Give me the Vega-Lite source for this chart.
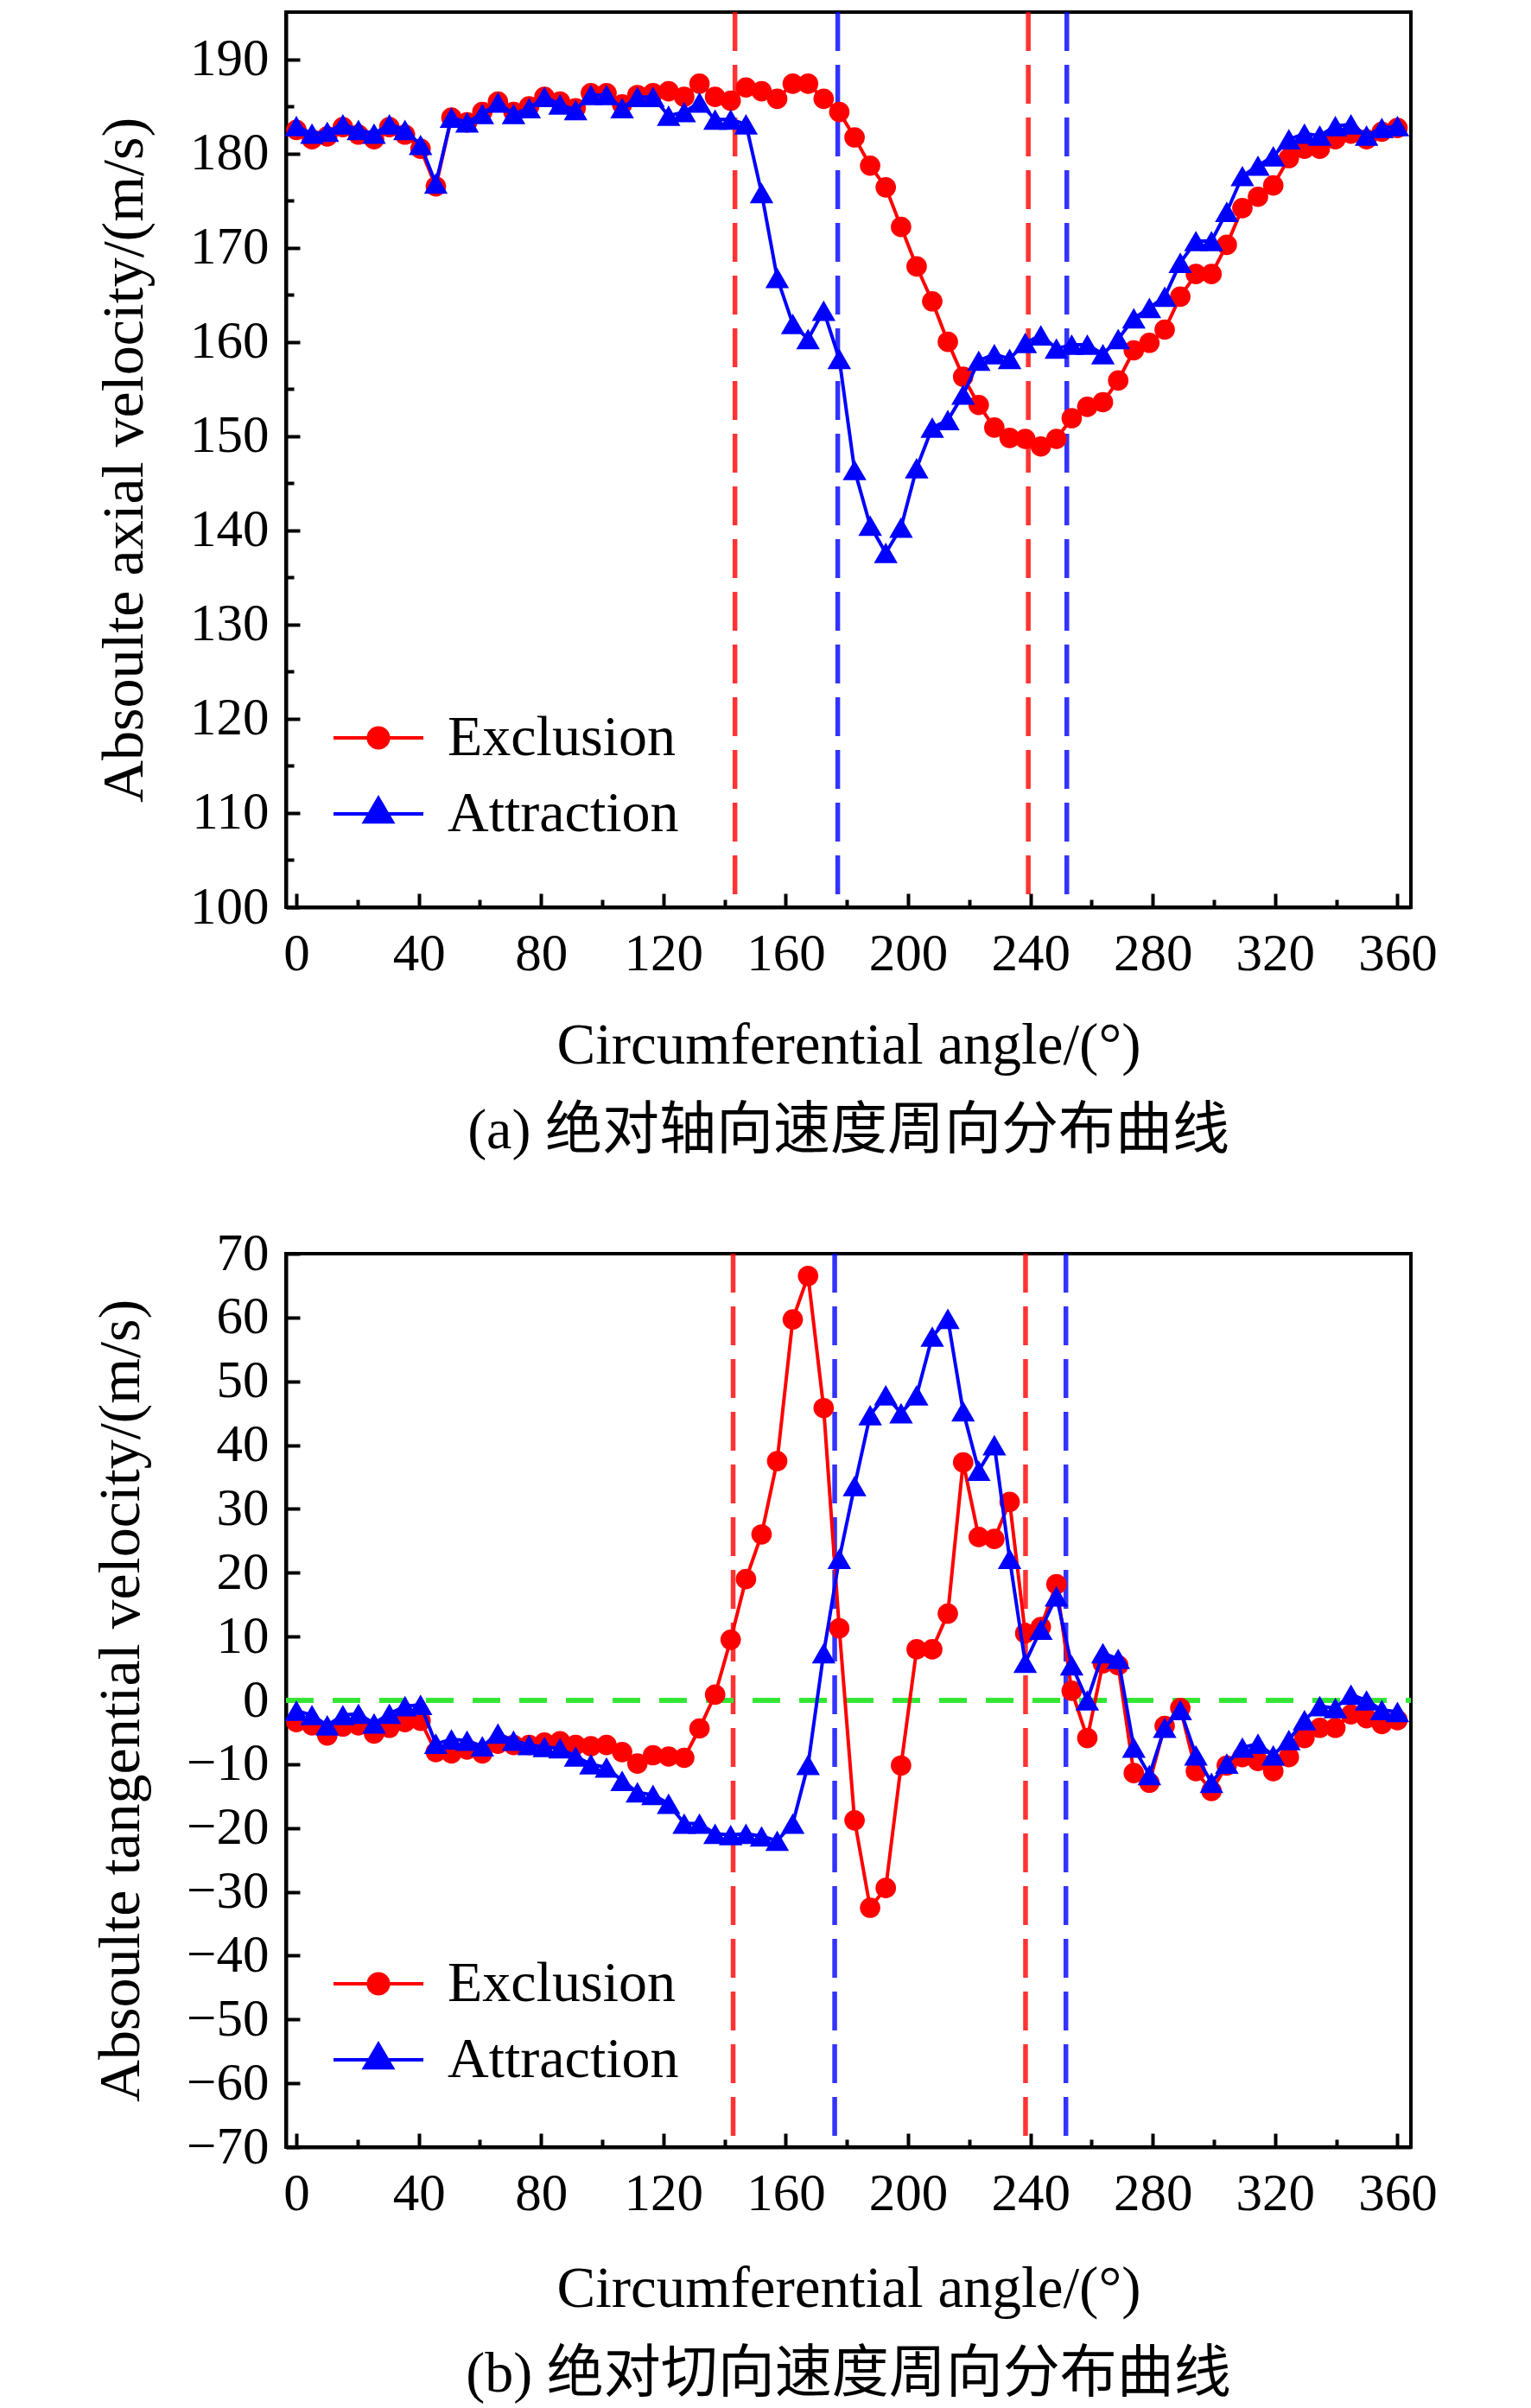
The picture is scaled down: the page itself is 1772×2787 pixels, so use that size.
{
  "$schema": "https://vega.github.io/schema/vega-lite/v6.json",
  "padding": {"left": 104, "top": 9, "right": 10, "bottom": 0},
  "background": "white",
  "spacing": 74,
  "datasets": {
    "markA": [
      {"angle": 143.4, "series": "Exclusion"},
      {"angle": 239.3, "series": "Exclusion"},
      {"angle": 177.0, "series": "Attraction"},
      {"angle": 251.9, "series": "Attraction"}
    ],
    "markB": [
      {"angle": 142.8, "series": "Exclusion"},
      {"angle": 238.4, "series": "Exclusion"},
      {"angle": 176.0, "series": "Attraction"},
      {"angle": 251.6, "series": "Attraction"}
    ],
    "axial": [
      {"angle": 0, "series": "Exclusion", "value": 182.5},
      {"angle": 5.1, "series": "Exclusion", "value": 181.5},
      {"angle": 10.1, "series": "Exclusion", "value": 181.8},
      {"angle": 15.2, "series": "Exclusion", "value": 182.8},
      {"angle": 20.3, "series": "Exclusion", "value": 182.0},
      {"angle": 25.4, "series": "Exclusion", "value": 181.5},
      {"angle": 30.4, "series": "Exclusion", "value": 182.8},
      {"angle": 35.5, "series": "Exclusion", "value": 182.0},
      {"angle": 40.6, "series": "Exclusion", "value": 180.5},
      {"angle": 45.6, "series": "Exclusion", "value": 176.5},
      {"angle": 50.7, "series": "Exclusion", "value": 183.8},
      {"angle": 55.8, "series": "Exclusion", "value": 183.3},
      {"angle": 60.8, "series": "Exclusion", "value": 184.4},
      {"angle": 65.9, "series": "Exclusion", "value": 185.5},
      {"angle": 71.0, "series": "Exclusion", "value": 184.4},
      {"angle": 76.1, "series": "Exclusion", "value": 185.0},
      {"angle": 81.1, "series": "Exclusion", "value": 186.0},
      {"angle": 86.2, "series": "Exclusion", "value": 185.5},
      {"angle": 91.3, "series": "Exclusion", "value": 184.8},
      {"angle": 96.3, "series": "Exclusion", "value": 186.4},
      {"angle": 101.4, "series": "Exclusion", "value": 186.4},
      {"angle": 106.5, "series": "Exclusion", "value": 185.2},
      {"angle": 111.5, "series": "Exclusion", "value": 186.2},
      {"angle": 116.6, "series": "Exclusion", "value": 186.4},
      {"angle": 121.7, "series": "Exclusion", "value": 186.6},
      {"angle": 126.8, "series": "Exclusion", "value": 186.0},
      {"angle": 131.8, "series": "Exclusion", "value": 187.4},
      {"angle": 136.9, "series": "Exclusion", "value": 186.0},
      {"angle": 142.0, "series": "Exclusion", "value": 185.6},
      {"angle": 147.0, "series": "Exclusion", "value": 187.0},
      {"angle": 152.1, "series": "Exclusion", "value": 186.6},
      {"angle": 157.2, "series": "Exclusion", "value": 185.8},
      {"angle": 162.3, "series": "Exclusion", "value": 187.4},
      {"angle": 167.3, "series": "Exclusion", "value": 187.4},
      {"angle": 172.4, "series": "Exclusion", "value": 185.8},
      {"angle": 177.5, "series": "Exclusion", "value": 184.4},
      {"angle": 182.5, "series": "Exclusion", "value": 181.7},
      {"angle": 187.6, "series": "Exclusion", "value": 178.7},
      {"angle": 192.7, "series": "Exclusion", "value": 176.4},
      {"angle": 197.7, "series": "Exclusion", "value": 172.2},
      {"angle": 202.8, "series": "Exclusion", "value": 168.0},
      {"angle": 207.9, "series": "Exclusion", "value": 164.3},
      {"angle": 213.0, "series": "Exclusion", "value": 160.0},
      {"angle": 218.0, "series": "Exclusion", "value": 156.3},
      {"angle": 223.1, "series": "Exclusion", "value": 153.3},
      {"angle": 228.2, "series": "Exclusion", "value": 150.9},
      {"angle": 233.2, "series": "Exclusion", "value": 149.8},
      {"angle": 238.3, "series": "Exclusion", "value": 149.7},
      {"angle": 243.4, "series": "Exclusion", "value": 148.9},
      {"angle": 248.5, "series": "Exclusion", "value": 149.7},
      {"angle": 253.5, "series": "Exclusion", "value": 151.9},
      {"angle": 258.6, "series": "Exclusion", "value": 153.1},
      {"angle": 263.7, "series": "Exclusion", "value": 153.6},
      {"angle": 268.7, "series": "Exclusion", "value": 155.9},
      {"angle": 273.8, "series": "Exclusion", "value": 159.1},
      {"angle": 278.9, "series": "Exclusion", "value": 159.9},
      {"angle": 283.9, "series": "Exclusion", "value": 161.3},
      {"angle": 289.0, "series": "Exclusion", "value": 164.8},
      {"angle": 294.1, "series": "Exclusion", "value": 167.2},
      {"angle": 299.2, "series": "Exclusion", "value": 167.2},
      {"angle": 304.2, "series": "Exclusion", "value": 170.3},
      {"angle": 309.3, "series": "Exclusion", "value": 174.2},
      {"angle": 314.4, "series": "Exclusion", "value": 175.4},
      {"angle": 319.4, "series": "Exclusion", "value": 176.6},
      {"angle": 324.5, "series": "Exclusion", "value": 179.5},
      {"angle": 329.6, "series": "Exclusion", "value": 180.5},
      {"angle": 334.6, "series": "Exclusion", "value": 180.5},
      {"angle": 339.7, "series": "Exclusion", "value": 181.5},
      {"angle": 344.8, "series": "Exclusion", "value": 182.1},
      {"angle": 349.9, "series": "Exclusion", "value": 181.5},
      {"angle": 354.9, "series": "Exclusion", "value": 182.3},
      {"angle": 360.0, "series": "Exclusion", "value": 182.7},
      {"angle": 0, "series": "Attraction", "value": 182.9},
      {"angle": 5.1, "series": "Attraction", "value": 182.1},
      {"angle": 10.1, "series": "Attraction", "value": 182.3},
      {"angle": 15.2, "series": "Attraction", "value": 183.1},
      {"angle": 20.3, "series": "Attraction", "value": 182.5},
      {"angle": 25.4, "series": "Attraction", "value": 182.1},
      {"angle": 30.4, "series": "Attraction", "value": 183.1},
      {"angle": 35.5, "series": "Attraction", "value": 182.5},
      {"angle": 40.6, "series": "Attraction", "value": 180.9},
      {"angle": 45.6, "series": "Attraction", "value": 176.8},
      {"angle": 50.7, "series": "Attraction", "value": 183.8},
      {"angle": 55.8, "series": "Attraction", "value": 183.3},
      {"angle": 60.8, "series": "Attraction", "value": 184.2},
      {"angle": 65.9, "series": "Attraction", "value": 185.4},
      {"angle": 71.0, "series": "Attraction", "value": 184.2},
      {"angle": 76.1, "series": "Attraction", "value": 184.8},
      {"angle": 81.1, "series": "Attraction", "value": 186.0},
      {"angle": 86.2, "series": "Attraction", "value": 185.2},
      {"angle": 91.3, "series": "Attraction", "value": 184.6},
      {"angle": 96.3, "series": "Attraction", "value": 186.2},
      {"angle": 101.4, "series": "Attraction", "value": 186.2},
      {"angle": 106.5, "series": "Attraction", "value": 184.8},
      {"angle": 111.5, "series": "Attraction", "value": 186.0},
      {"angle": 116.6, "series": "Attraction", "value": 186.0},
      {"angle": 121.7, "series": "Attraction", "value": 184.0},
      {"angle": 126.8, "series": "Attraction", "value": 184.4},
      {"angle": 131.8, "series": "Attraction", "value": 185.4},
      {"angle": 136.9, "series": "Attraction", "value": 183.6},
      {"angle": 142.0, "series": "Attraction", "value": 183.6},
      {"angle": 147.0, "series": "Attraction", "value": 183.1},
      {"angle": 152.1, "series": "Attraction", "value": 175.8},
      {"angle": 157.2, "series": "Attraction", "value": 166.8},
      {"angle": 162.3, "series": "Attraction", "value": 161.9},
      {"angle": 167.3, "series": "Attraction", "value": 160.3},
      {"angle": 172.4, "series": "Attraction", "value": 163.3},
      {"angle": 177.5, "series": "Attraction", "value": 158.2},
      {"angle": 182.5, "series": "Attraction", "value": 146.4},
      {"angle": 187.6, "series": "Attraction", "value": 140.5},
      {"angle": 192.7, "series": "Attraction", "value": 137.6},
      {"angle": 197.7, "series": "Attraction", "value": 140.3},
      {"angle": 202.8, "series": "Attraction", "value": 146.6},
      {"angle": 207.9, "series": "Attraction", "value": 150.9},
      {"angle": 213.0, "series": "Attraction", "value": 151.7},
      {"angle": 218.0, "series": "Attraction", "value": 154.4},
      {"angle": 223.1, "series": "Attraction", "value": 158.0},
      {"angle": 228.2, "series": "Attraction", "value": 158.7},
      {"angle": 233.2, "series": "Attraction", "value": 158.2},
      {"angle": 238.3, "series": "Attraction", "value": 159.9},
      {"angle": 243.4, "series": "Attraction", "value": 160.7},
      {"angle": 248.5, "series": "Attraction", "value": 159.3},
      {"angle": 253.5, "series": "Attraction", "value": 159.7},
      {"angle": 258.6, "series": "Attraction", "value": 159.7},
      {"angle": 263.7, "series": "Attraction", "value": 158.7},
      {"angle": 268.7, "series": "Attraction", "value": 160.3},
      {"angle": 273.8, "series": "Attraction", "value": 162.5},
      {"angle": 278.9, "series": "Attraction", "value": 163.6},
      {"angle": 283.9, "series": "Attraction", "value": 164.8},
      {"angle": 289.0, "series": "Attraction", "value": 168.4},
      {"angle": 294.1, "series": "Attraction", "value": 170.7},
      {"angle": 299.2, "series": "Attraction", "value": 170.7},
      {"angle": 304.2, "series": "Attraction", "value": 173.8},
      {"angle": 309.3, "series": "Attraction", "value": 177.6},
      {"angle": 314.4, "series": "Attraction", "value": 178.7},
      {"angle": 319.4, "series": "Attraction", "value": 179.7},
      {"angle": 324.5, "series": "Attraction", "value": 181.5},
      {"angle": 329.6, "series": "Attraction", "value": 182.1},
      {"angle": 334.6, "series": "Attraction", "value": 181.9},
      {"angle": 339.7, "series": "Attraction", "value": 182.9},
      {"angle": 344.8, "series": "Attraction", "value": 183.1},
      {"angle": 349.9, "series": "Attraction", "value": 181.9},
      {"angle": 354.9, "series": "Attraction", "value": 182.7},
      {"angle": 360.0, "series": "Attraction", "value": 182.9}
    ],
    "tangential": [
      {"angle": 0, "series": "Exclusion", "value": -3.4},
      {"angle": 5.1, "series": "Exclusion", "value": -3.9},
      {"angle": 10.1, "series": "Exclusion", "value": -5.5},
      {"angle": 15.2, "series": "Exclusion", "value": -4.1},
      {"angle": 20.3, "series": "Exclusion", "value": -3.9},
      {"angle": 25.4, "series": "Exclusion", "value": -5.2},
      {"angle": 30.4, "series": "Exclusion", "value": -4.3},
      {"angle": 35.5, "series": "Exclusion", "value": -3.4},
      {"angle": 40.6, "series": "Exclusion", "value": -3.2},
      {"angle": 45.6, "series": "Exclusion", "value": -8.1},
      {"angle": 50.7, "series": "Exclusion", "value": -8.3},
      {"angle": 55.8, "series": "Exclusion", "value": -7.7},
      {"angle": 60.8, "series": "Exclusion", "value": -8.3},
      {"angle": 65.9, "series": "Exclusion", "value": -6.8},
      {"angle": 71.0, "series": "Exclusion", "value": -7.0},
      {"angle": 76.1, "series": "Exclusion", "value": -7.0},
      {"angle": 81.1, "series": "Exclusion", "value": -6.6},
      {"angle": 86.2, "series": "Exclusion", "value": -6.4},
      {"angle": 91.3, "series": "Exclusion", "value": -7.0},
      {"angle": 96.3, "series": "Exclusion", "value": -7.2},
      {"angle": 101.4, "series": "Exclusion", "value": -7.0},
      {"angle": 106.5, "series": "Exclusion", "value": -8.1},
      {"angle": 111.5, "series": "Exclusion", "value": -9.9},
      {"angle": 116.6, "series": "Exclusion", "value": -8.6},
      {"angle": 121.7, "series": "Exclusion", "value": -8.8},
      {"angle": 126.8, "series": "Exclusion", "value": -9.0},
      {"angle": 131.8, "series": "Exclusion", "value": -4.4},
      {"angle": 136.9, "series": "Exclusion", "value": 0.9},
      {"angle": 142.0, "series": "Exclusion", "value": 9.5},
      {"angle": 147.0, "series": "Exclusion", "value": 19.0},
      {"angle": 152.1, "series": "Exclusion", "value": 26.0},
      {"angle": 157.2, "series": "Exclusion", "value": 37.5},
      {"angle": 162.3, "series": "Exclusion", "value": 59.7},
      {"angle": 167.3, "series": "Exclusion", "value": 66.5},
      {"angle": 172.4, "series": "Exclusion", "value": 45.8},
      {"angle": 177.5, "series": "Exclusion", "value": 11.3},
      {"angle": 182.5, "series": "Exclusion", "value": -18.8},
      {"angle": 187.6, "series": "Exclusion", "value": -32.5},
      {"angle": 192.7, "series": "Exclusion", "value": -29.4},
      {"angle": 197.7, "series": "Exclusion", "value": -10.2},
      {"angle": 202.8, "series": "Exclusion", "value": 8.0},
      {"angle": 207.9, "series": "Exclusion", "value": 8.0},
      {"angle": 213.0, "series": "Exclusion", "value": 13.6},
      {"angle": 218.0, "series": "Exclusion", "value": 37.3},
      {"angle": 223.1, "series": "Exclusion", "value": 25.6},
      {"angle": 228.2, "series": "Exclusion", "value": 25.3},
      {"angle": 233.2, "series": "Exclusion", "value": 31.1},
      {"angle": 238.3, "series": "Exclusion", "value": 10.5},
      {"angle": 243.4, "series": "Exclusion", "value": 11.5},
      {"angle": 248.5, "series": "Exclusion", "value": 18.2},
      {"angle": 253.5, "series": "Exclusion", "value": 1.5},
      {"angle": 258.6, "series": "Exclusion", "value": -5.9},
      {"angle": 263.7, "series": "Exclusion", "value": 5.8},
      {"angle": 268.7, "series": "Exclusion", "value": 5.5},
      {"angle": 273.8, "series": "Exclusion", "value": -11.4},
      {"angle": 278.9, "series": "Exclusion", "value": -12.9},
      {"angle": 283.9, "series": "Exclusion", "value": -4.0},
      {"angle": 289.0, "series": "Exclusion", "value": -1.2},
      {"angle": 294.1, "series": "Exclusion", "value": -11.1},
      {"angle": 299.2, "series": "Exclusion", "value": -14.2},
      {"angle": 304.2, "series": "Exclusion", "value": -10.2},
      {"angle": 309.3, "series": "Exclusion", "value": -8.9},
      {"angle": 314.4, "series": "Exclusion", "value": -9.5},
      {"angle": 319.4, "series": "Exclusion", "value": -11.1},
      {"angle": 324.5, "series": "Exclusion", "value": -8.9},
      {"angle": 329.6, "series": "Exclusion", "value": -5.9},
      {"angle": 334.6, "series": "Exclusion", "value": -4.3},
      {"angle": 339.7, "series": "Exclusion", "value": -4.3},
      {"angle": 344.8, "series": "Exclusion", "value": -2.2},
      {"angle": 349.9, "series": "Exclusion", "value": -2.8},
      {"angle": 354.9, "series": "Exclusion", "value": -3.7},
      {"angle": 360.0, "series": "Exclusion", "value": -3.1},
      {"angle": 0, "series": "Attraction", "value": -1.6},
      {"angle": 5.1, "series": "Attraction", "value": -2.3},
      {"angle": 10.1, "series": "Attraction", "value": -3.9},
      {"angle": 15.2, "series": "Attraction", "value": -2.3},
      {"angle": 20.3, "series": "Attraction", "value": -2.1},
      {"angle": 25.4, "series": "Attraction", "value": -3.6},
      {"angle": 30.4, "series": "Attraction", "value": -2.1},
      {"angle": 35.5, "series": "Attraction", "value": -0.9},
      {"angle": 40.6, "series": "Attraction", "value": -0.7},
      {"angle": 45.6, "series": "Attraction", "value": -6.8},
      {"angle": 50.7, "series": "Attraction", "value": -6.1},
      {"angle": 55.8, "series": "Attraction", "value": -6.3},
      {"angle": 60.8, "series": "Attraction", "value": -7.2},
      {"angle": 65.9, "series": "Attraction", "value": -5.2},
      {"angle": 71.0, "series": "Attraction", "value": -6.3},
      {"angle": 76.1, "series": "Attraction", "value": -7.0},
      {"angle": 81.1, "series": "Attraction", "value": -7.3},
      {"angle": 86.2, "series": "Attraction", "value": -7.5},
      {"angle": 91.3, "series": "Attraction", "value": -8.8},
      {"angle": 96.3, "series": "Attraction", "value": -10.0},
      {"angle": 101.4, "series": "Attraction", "value": -10.5},
      {"angle": 106.5, "series": "Attraction", "value": -12.6},
      {"angle": 111.5, "series": "Attraction", "value": -14.4},
      {"angle": 116.6, "series": "Attraction", "value": -14.8},
      {"angle": 121.7, "series": "Attraction", "value": -16.2},
      {"angle": 126.8, "series": "Attraction", "value": -19.3},
      {"angle": 131.8, "series": "Attraction", "value": -19.3},
      {"angle": 136.9, "series": "Attraction", "value": -20.9},
      {"angle": 142.0, "series": "Attraction", "value": -21.1},
      {"angle": 147.0, "series": "Attraction", "value": -20.9},
      {"angle": 152.1, "series": "Attraction", "value": -21.3},
      {"angle": 157.2, "series": "Attraction", "value": -22.0},
      {"angle": 162.3, "series": "Attraction", "value": -19.3},
      {"angle": 167.3, "series": "Attraction", "value": -10.1},
      {"angle": 172.4, "series": "Attraction", "value": 7.4},
      {"angle": 177.5, "series": "Attraction", "value": 22.2},
      {"angle": 182.5, "series": "Attraction", "value": 33.6},
      {"angle": 187.6, "series": "Attraction", "value": 44.7},
      {"angle": 192.7, "series": "Attraction", "value": 47.8},
      {"angle": 197.7, "series": "Attraction", "value": 45.0},
      {"angle": 202.8, "series": "Attraction", "value": 47.8},
      {"angle": 207.9, "series": "Attraction", "value": 57.0},
      {"angle": 213.0, "series": "Attraction", "value": 59.8},
      {"angle": 218.0, "series": "Attraction", "value": 45.3},
      {"angle": 223.1, "series": "Attraction", "value": 36.0},
      {"angle": 228.2, "series": "Attraction", "value": 40.0},
      {"angle": 233.2, "series": "Attraction", "value": 22.2},
      {"angle": 238.3, "series": "Attraction", "value": 5.9},
      {"angle": 243.4, "series": "Attraction", "value": 11.1},
      {"angle": 248.5, "series": "Attraction", "value": 16.3},
      {"angle": 253.5, "series": "Attraction", "value": 5.5},
      {"angle": 258.6, "series": "Attraction", "value": 0.0},
      {"angle": 263.7, "series": "Attraction", "value": 7.4},
      {"angle": 268.7, "series": "Attraction", "value": 6.5},
      {"angle": 273.8, "series": "Attraction", "value": -7.4},
      {"angle": 278.9, "series": "Attraction", "value": -11.7},
      {"angle": 283.9, "series": "Attraction", "value": -4.3},
      {"angle": 289.0, "series": "Attraction", "value": -1.5},
      {"angle": 294.1, "series": "Attraction", "value": -8.6},
      {"angle": 299.2, "series": "Attraction", "value": -12.9},
      {"angle": 304.2, "series": "Attraction", "value": -9.9},
      {"angle": 309.3, "series": "Attraction", "value": -7.4},
      {"angle": 314.4, "series": "Attraction", "value": -6.8},
      {"angle": 319.4, "series": "Attraction", "value": -8.6},
      {"angle": 324.5, "series": "Attraction", "value": -6.2},
      {"angle": 329.6, "series": "Attraction", "value": -3.1},
      {"angle": 334.6, "series": "Attraction", "value": -0.9},
      {"angle": 339.7, "series": "Attraction", "value": -1.2},
      {"angle": 344.8, "series": "Attraction", "value": 0.9},
      {"angle": 349.9, "series": "Attraction", "value": 0.0},
      {"angle": 354.9, "series": "Attraction", "value": -1.5},
      {"angle": 360.0, "series": "Attraction", "value": -1.8}
    ]
  },
  "vconcat": [
    {
      "width": 1302,
      "height": 1036,
      "title": {"text": "(a) 绝对轴向速度周向分布曲线", "orient": "bottom", "frame": "group", "offset": 34},
      "encoding": {
        "x": {
          "field": "angle",
          "type": "quantitative",
          "scale": {"domain": [-3.4, 364.4], "nice": false, "zero": false},
          "axis": {
            "title": "Circumferential angle/(°)",
            "titleFontSize": 67,
            "values": [0, 20, 40, 60, 80, 100, 120, 140, 160, 180, 200, 220, 240, 260, 280, 300, 320, 340, 360],
            "labelExpr": "datum.value % 40 === 0 ? datum.label : ''",
            "tickSize": {"condition": {"test": "datum.value % 40 === 0", "value": -16}, "value": -9},
            "labelPadding": 40,
            "titlePadding": 36
          }
        }
      },
      "layer": [
        {
          "data": {"name": "markA"},
          "mark": {"type": "rule", "strokeDash": [45, 16], "strokeWidth": 5.5, "opacity": 0.8},
          "encoding": {
            "color": {"field": "series", "type": "nominal", "scale": {"domain": ["Exclusion", "Attraction"], "range": ["#ff0000", "#0000ff"]}}
          }
        },
        {
          "data": {"name": "axial"},
          "transform": [{"filter": "datum.series === 'Exclusion'"}],
          "mark": {"type": "line", "strokeWidth": 4},
          "encoding": {
            "y": {
              "field": "value",
              "type": "quantitative",
              "scale": {"domain": [100, 195], "nice": false, "zero": false},
              "axis": {
                "title": "Absoulte axial velocity/(m/s)",
                "titleFontSize": 68,
                "values": [100, 105, 110, 115, 120, 125, 130, 135, 140, 145, 150, 155, 160, 165, 170, 175, 180, 185, 190],
                "labelExpr": "datum.value % 10 === 0 ? datum.label : ''",
                "tickSize": {"condition": {"test": "datum.value % 10 === 0", "value": -16}, "value": -9},
                "labelPadding": 36,
                "titlePadding": 41
              }
            },
            "color": {
              "field": "series",
              "type": "nominal",
              "scale": {"domain": ["Exclusion", "Attraction"], "range": ["#ff0000", "#0000ff"]},
              "legend": {
                "orient": "none",
                "legendX": 65,
                "legendY": 798,
                "padding": 0,
                "title": null,
                "labelFont": "Liberation Serif",
                "labelFontSize": 66,
                "labelColor": "black",
                "labelLimit": 0,
                "labelOffset": 38,
                "rowPadding": 13,
                "encode": {
                  "symbols": {
                    "update": {
                      "shape": {"signal": "datum.value === 'Exclusion' ? 'M-1.3,0L1.3,0M-0.29,0A0.29,0.29,0,1,1,0.29,0A0.29,0.29,0,1,1,-0.29,0Z' : 'M-1.3,0L1.3,0M0,-0.45L0.4,0.23L-0.4,0.23Z'"},
                      "fill": {"signal": "datum.value === 'Exclusion' ? '#ff0000' : '#0000ff'"},
                      "stroke": {"signal": "datum.value === 'Exclusion' ? '#ff0000' : '#0000ff'"},
                      "strokeWidth": {"value": 4},
                      "size": {"value": 6400},
                      "opacity": {"value": 1}
                    }
                  }
                }
              }
            }
          }
        },
        {
          "data": {"name": "axial"},
          "transform": [{"filter": "datum.series === 'Exclusion'"}],
          "mark": {"type": "point", "filled": true, "opacity": 1, "shape": "circle", "size": 560, "color": "#ff0000"},
          "encoding": {"y": {"field": "value", "type": "quantitative"}}
        },
        {
          "data": {"name": "axial"},
          "transform": [{"filter": "datum.series === 'Attraction'"}],
          "mark": {"type": "line", "strokeWidth": 4, "color": "#0000ff"},
          "encoding": {"y": {"field": "value", "type": "quantitative"}}
        },
        {
          "data": {"name": "axial"},
          "transform": [{"filter": "datum.series === 'Attraction'"}],
          "mark": {"type": "point", "filled": true, "opacity": 1, "shape": "triangle-up", "size": 750, "color": "#0000ff"},
          "encoding": {"y": {"field": "value", "type": "quantitative"}}
        }
      ]
    },
    {
      "width": 1302,
      "height": 1034,
      "title": {"text": "(b) 绝对切向速度周向分布曲线", "orient": "bottom", "frame": "group", "offset": 34},
      "encoding": {
        "x": {
          "field": "angle",
          "type": "quantitative",
          "scale": {"domain": [-3.4, 364.4], "nice": false, "zero": false},
          "axis": {
            "title": "Circumferential angle/(°)",
            "titleFontSize": 67,
            "values": [0, 20, 40, 60, 80, 100, 120, 140, 160, 180, 200, 220, 240, 260, 280, 300, 320, 340, 360],
            "labelExpr": "datum.value % 40 === 0 ? datum.label : ''",
            "tickSize": {"condition": {"test": "datum.value % 40 === 0", "value": -16}, "value": -9},
            "labelPadding": 40,
            "titlePadding": 40
          }
        }
      },
      "layer": [
        {
          "data": {"name": "markB"},
          "mark": {"type": "rule", "strokeDash": [45, 16], "strokeWidth": 5.5, "opacity": 0.8},
          "encoding": {
            "color": {"field": "series", "type": "nominal", "scale": {"domain": ["Exclusion", "Attraction"], "range": ["#ff0000", "#0000ff"]}}
          }
        },
        {
          "data": {"name": "markB"},
          "mark": {"type": "rule", "strokeDash": [32, 22], "strokeWidth": 5, "color": "#33e633"},
          "encoding": {"x": {"value": 0}, "x2": {"value": 1302}, "y": {"datum": 0, "type": "quantitative"}}
        },
        {
          "data": {"name": "tangential"},
          "transform": [{"filter": "datum.series === 'Exclusion'"}],
          "mark": {"type": "line", "strokeWidth": 4},
          "encoding": {
            "y": {
              "field": "value",
              "type": "quantitative",
              "scale": {"domain": [-70, 70], "nice": false, "zero": false},
              "axis": {
                "title": "Absoulte tangential velocity/(m/s)",
                "titleFontSize": 68,
                "values": [-70, -65, -60, -55, -50, -45, -40, -35, -30, -25, -20, -15, -10, -5, 0, 5, 10, 15, 20, 25, 30, 35, 40, 45, 50, 55, 60, 65, 70],
                "labelExpr": "datum.value % 10 === 0 ? datum.label : ''",
                "tickSize": {"condition": {"test": "datum.value % 10 === 0", "value": -16}, "value": -9},
                "labelPadding": 36,
                "titlePadding": 41
              }
            },
            "color": {
              "field": "series",
              "type": "nominal",
              "scale": {"domain": ["Exclusion", "Attraction"], "range": ["#ff0000", "#0000ff"]},
              "legend": {
                "orient": "none",
                "legendX": 65,
                "legendY": 803,
                "padding": 0,
                "title": null,
                "labelFont": "Liberation Serif",
                "labelFontSize": 66,
                "labelColor": "black",
                "labelLimit": 0,
                "labelOffset": 38,
                "rowPadding": 13,
                "encode": {
                  "symbols": {
                    "update": {
                      "shape": {"signal": "datum.value === 'Exclusion' ? 'M-1.3,0L1.3,0M-0.29,0A0.29,0.29,0,1,1,0.29,0A0.29,0.29,0,1,1,-0.29,0Z' : 'M-1.3,0L1.3,0M0,-0.45L0.4,0.23L-0.4,0.23Z'"},
                      "fill": {"signal": "datum.value === 'Exclusion' ? '#ff0000' : '#0000ff'"},
                      "stroke": {"signal": "datum.value === 'Exclusion' ? '#ff0000' : '#0000ff'"},
                      "strokeWidth": {"value": 4},
                      "size": {"value": 6400},
                      "opacity": {"value": 1}
                    }
                  }
                }
              }
            }
          }
        },
        {
          "data": {"name": "tangential"},
          "transform": [{"filter": "datum.series === 'Exclusion'"}],
          "mark": {"type": "point", "filled": true, "opacity": 1, "shape": "circle", "size": 560, "color": "#ff0000"},
          "encoding": {"y": {"field": "value", "type": "quantitative"}}
        },
        {
          "data": {"name": "tangential"},
          "transform": [{"filter": "datum.series === 'Attraction'"}],
          "mark": {"type": "line", "strokeWidth": 4, "color": "#0000ff"},
          "encoding": {"y": {"field": "value", "type": "quantitative"}}
        },
        {
          "data": {"name": "tangential"},
          "transform": [{"filter": "datum.series === 'Attraction'"}],
          "mark": {"type": "point", "filled": true, "opacity": 1, "shape": "triangle-up", "size": 750, "color": "#0000ff"},
          "encoding": {"y": {"field": "value", "type": "quantitative"}}
        }
      ]
    }
  ],
  "resolve": {"scale": {"color": "independent"}, "legend": {"color": "independent"}},
  "config": {
    "font": "Liberation Serif",
    "view": {"stroke": "black", "strokeWidth": 4},
    "axis": {
      "grid": false,
      "labelFont": "Liberation Serif",
      "labelFontSize": 61,
      "labelColor": "black",
      "labelFlush": false,
      "labelOverlap": false,
      "titleFont": "Liberation Serif",
      "titleFontWeight": "normal",
      "titleColor": "black",
      "domainColor": "black",
      "domainWidth": 4,
      "tickColor": "black",
      "tickWidth": 4
    },
    "title": {
      "font": "Liberation Serif, Noto Sans CJK SC",
      "fontSize": 66,
      "fontWeight": "normal",
      "color": "black"
    }
  }
}
